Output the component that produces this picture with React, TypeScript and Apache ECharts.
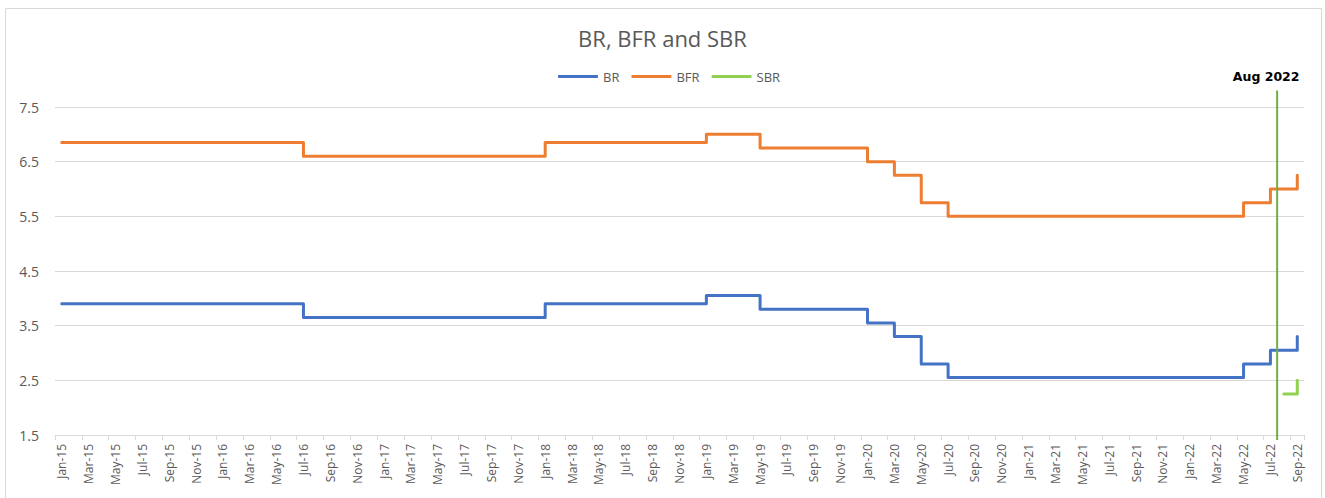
import React, { useEffect, useRef } from "react";
import * as echarts from "echarts";

const MONTHS = ["Jan", "Feb", "Mar", "Apr", "May", "Jun", "Jul", "Aug", "Sep", "Oct", "Nov", "Dec"];
const YEARS = ["15", "16", "17", "18", "19", "20", "21", "22"];
const LAST_CATEGORY = "Sep-22";

const CATEGORIES: string[] = [];
for (const y of YEARS) {
  for (const m of MONTHS) {
    if (CATEGORIES[CATEGORIES.length - 1] === LAST_CATEGORY) break;
    CATEGORIES.push(`${m}-${y}`);
  }
}

const CHANGE_DATES = ["Jan-15", "Jul-16", "Jan-18", "Jan-19", "May-19", "Jan-20", "Mar-20", "May-20", "Jul-20", "May-22", "Jul-22", "Sep-22"];
const BR_VALUES = [3.9, 3.65, 3.9, 4.05, 3.8, 3.55, 3.3, 2.8, 2.55, 2.8, 3.05, 3.3];
const BFR_VALUES = [6.85, 6.6, 6.85, 7.0, 6.75, 6.5, 6.25, 5.75, 5.5, 5.75, 6.0, 6.25];
const SBR_DATES = ["Aug-22", "Sep-22"];
const SBR_VALUES = [2.25, 2.5];

const Y_TICKS_MIN = 1.5;
const Y_TICKS_MAX = 7.5;
const Y_INTERVAL = 1;

const MARKER_BEFORE = "Jul-22";
const MARKER_AFTER = "Aug-22";
const MARKER_LABEL = "Aug 2022";
const MARKER_Y_RANGE = [1.41, 7.8];

const FONT = "'Open Sans', sans-serif";
const GREY = "#595959";

export default function App() {
  const ref = useRef<HTMLDivElement>(null);
  useEffect(() => {
    if (!ref.current) return;
    const chart = echarts.init(ref.current, null, { renderer: "svg" });
    const pair = (dates: string[], vals: number[]) => dates.map((d, i) => [d, vals[i]]);
    chart.setOption({
      animation: false,
      backgroundColor: "#ffffff",
      title: {
        text: "BR, BFR and SBR",
        left: "center",
        top: 22,
        textStyle: { fontFamily: FONT, fontSize: 22, fontWeight: "normal", color: GREY },
      },
      legend: {
        top: 65,
        left: 553,
        itemWidth: 40,
        itemHeight: 3,
        itemGap: 12,
        icon: "roundRect",
        textStyle: { fontFamily: FONT, fontSize: 13, color: GREY },
        data: ["BR", "BFR", "SBR"],
      },
      grid: { left: 55, right: 21, top: 107, bottom: 63, containLabel: false },
      xAxis: {
        type: "category",
        data: CATEGORIES,
        boundaryGap: true,
        axisLine: { lineStyle: { color: "#d9d9d9", width: 1 } },
        axisTick: { show: true, interval: 1, length: 5, lineStyle: { color: "#d9d9d9" } },
        axisLabel: { interval: 1, rotate: 90, margin: 9, fontFamily: FONT, fontSize: 12, color: GREY },
        splitLine: { show: false },
      },
      yAxis: {
        type: "value",
        min: Y_TICKS_MIN,
        max: Y_TICKS_MAX,
        interval: Y_INTERVAL,
        axisLine: { show: false },
        axisTick: { show: false },
        axisLabel: { margin: 16, fontFamily: FONT, fontSize: 14, color: GREY, formatter: (v: number) => v.toFixed(1) },
        splitLine: { lineStyle: { color: "#d9d9d9", width: 1 } },
      },
      series: [
        {
          name: "BR",
          type: "line",
          step: "end",
          symbol: "none",
          data: pair(CHANGE_DATES, BR_VALUES),
          lineStyle: { color: "#4472C4", width: 3, cap: "round", join: "round" },
          itemStyle: { color: "#4472C4" },
        },
        {
          name: "BFR",
          type: "line",
          step: "end",
          symbol: "none",
          data: pair(CHANGE_DATES, BFR_VALUES),
          lineStyle: { color: "#ED7D31", width: 3, cap: "round", join: "round" },
          itemStyle: { color: "#ED7D31" },
        },
        {
          name: "SBR",
          type: "line",
          step: "end",
          symbol: "none",
          data: pair(SBR_DATES, SBR_VALUES),
          lineStyle: { color: "#92D050", width: 3, cap: "round", join: "round" },
          itemStyle: { color: "#92D050" },
        },
      ],
    });

    const xa = chart.convertToPixel({ xAxisIndex: 0 }, MARKER_BEFORE) as number;
    const xb = chart.convertToPixel({ xAxisIndex: 0 }, MARKER_AFTER) as number;
    const x = (xa + xb) / 2;
    const yBottom = chart.convertToPixel({ yAxisIndex: 0 }, MARKER_Y_RANGE[0]) as number;
    const yTop = chart.convertToPixel({ yAxisIndex: 0 }, MARKER_Y_RANGE[1]) as number;
    chart.setOption({
      graphic: [
        {
          type: "rect",
          shape: { x: 5.5, y: 8.5, width: 1316, height: 500 },
          style: { fill: "none", stroke: "#d9d9d9", lineWidth: 1 },
          silent: true,
          z: -1,
        },
        {
          type: "line",
          shape: { x1: x, y1: yTop, x2: x, y2: yBottom },
          style: { stroke: "#70AD47", lineWidth: 2 },
          z: 10,
        },
        {
          type: "text",
          x: x - 11,
          y: yTop - 8,
          style: {
            text: MARKER_LABEL,
            fontFamily: "'DejaVu Sans', sans-serif",
            fontWeight: "bold",
            fontSize: 12.5,
            fill: "#000000",
            textAlign: "center",
            textVerticalAlign: "bottom",
          },
          z: 10,
        },
      ],
    });

    return () => chart.dispose();
  }, []);
  return <div ref={ref} style={{ position: "absolute", left: 0, top: 0, width: 1325, height: 498 }} />;
}
